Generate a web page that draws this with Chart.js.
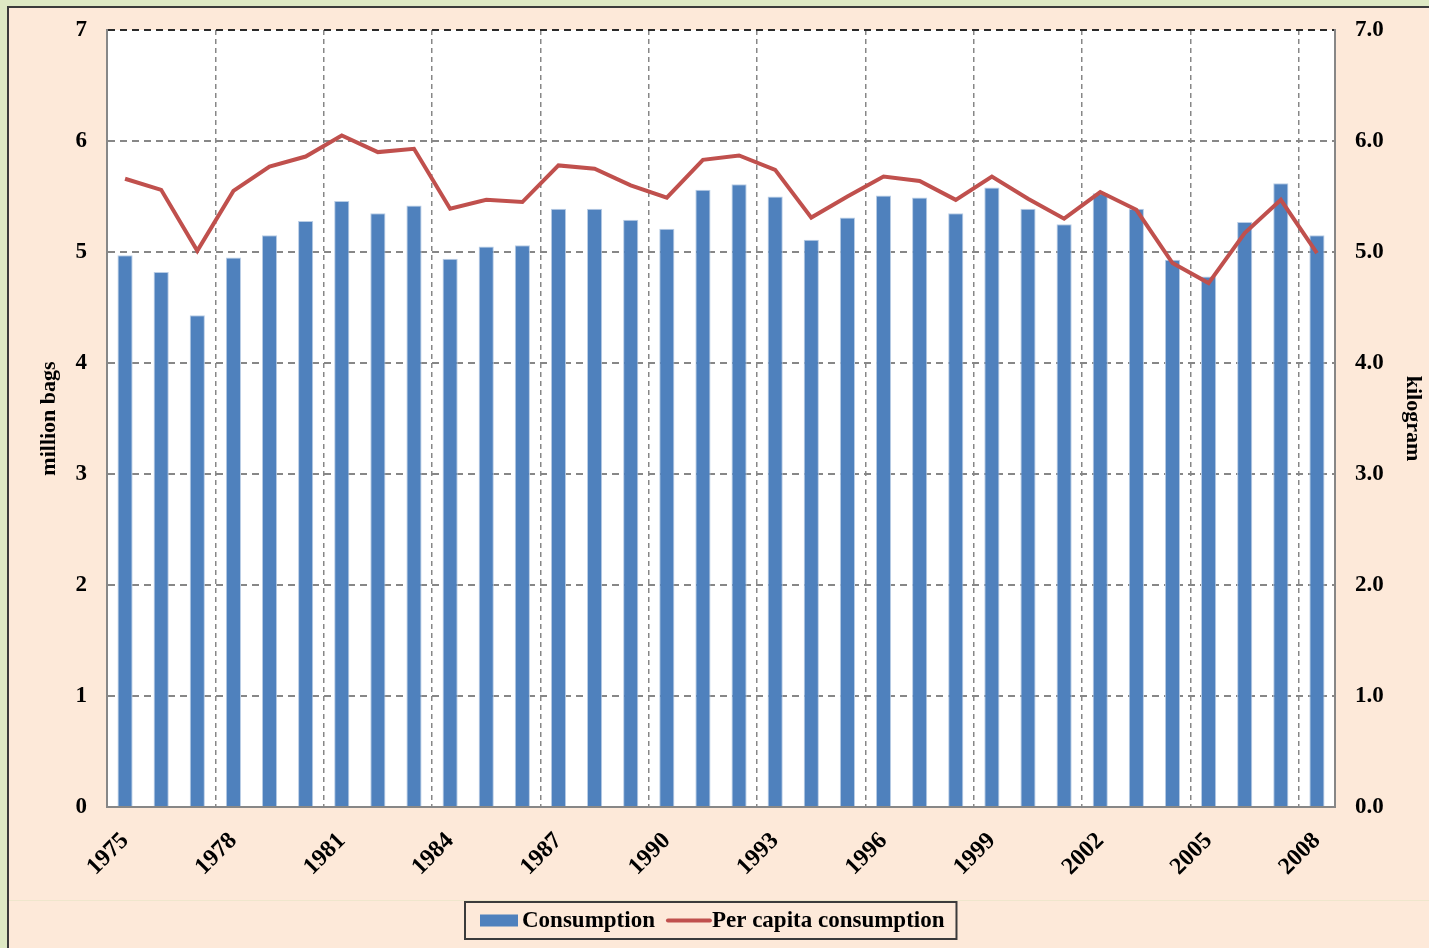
<!DOCTYPE html>
<html>
<head>
<meta charset="utf-8">
<script src="https://cdn.jsdelivr.net/npm/chart.js@4.4.1/dist/chart.umd.min.js"></script>
<style>
  html, body { margin: 0; padding: 0; background: #dee9c4; overflow: hidden; }
  #panel { position: absolute; left: 7px; top: 6px; width: 1440px; height: 960px;
           border: 2px solid #3b3b3b; background: #fde9d9; }
  #sep { position: absolute; left: 9px; top: 900px; width: 1430px; height: 1px; background: #efe6cc; }
  #chart { position: absolute; left: 0; top: 0; }
</style>
</head>
<body>
<div id="panel"></div>
<div id="sep"></div>
<canvas id="chart" width="1429" height="948"></canvas>
<script>
// years 1975 - 2008
const years = ['1975','1976','1977','1978','1979','1980','1981','1982','1983','1984',
               '1985','1986','1987','1988','1989','1990','1991','1992','1993','1994',
               '1995','1996','1997','1998','1999','2000','2001','2002','2003','2004',
               '2005','2006','2007','2008'];

// consumption, million bags
const consumption = [4.97, 4.82, 4.43, 4.95, 5.15, 5.28, 5.46, 5.35, 5.42, 4.94,
                     5.05, 5.06, 5.39, 5.39, 5.29, 5.21, 5.56, 5.61, 5.50, 5.11,
                     5.31, 5.51, 5.49, 5.35, 5.58, 5.39, 5.25, 5.53, 5.39, 4.93,
                     4.78, 5.27, 5.62, 5.15];

// per capita consumption, kilogram
const perCapita = [5.66, 5.56, 5.01, 5.55, 5.77, 5.86, 6.05, 5.90, 5.93, 5.39,
                   5.47, 5.45, 5.78, 5.75, 5.60, 5.49, 5.83, 5.87, 5.74, 5.31,
                   5.50, 5.68, 5.64, 5.47, 5.68, 5.48, 5.30, 5.54, 5.38, 4.90,
                   4.72, 5.17, 5.47, 4.99];

const fontFam = '"Liberation Serif", "Times New Roman", serif';
const gridGray = '#878787';

// white plot background
const plotBg = {
  id: 'plotBg',
  beforeDraw(chart) {
    const a = chart.chartArea, ctx = chart.ctx;
    ctx.save();
    ctx.fillStyle = '#ffffff';
    ctx.fillRect(a.left, a.top, a.right - a.left, a.bottom - a.top);
    ctx.restore();
  }
};

// boxed legend like the original: bar first, then line
const boxLegend = {
  id: 'boxLegend',
  afterDraw(chart) {
    const ctx = chart.ctx;
    const bar = chart.data.datasets.find(d => d.type === 'bar');
    const line = chart.data.datasets.find(d => d.type === 'line');
    ctx.save();
    ctx.font = 'bold 23px ' + fontFam;
    ctx.textBaseline = 'middle';
    const w0 = ctx.measureText(bar.label).width;
    const w1 = ctx.measureText(line.label).width;
    const total = 15 + 38 + 4 + w0 + 13 + 42 + 2 + w1 + 12;
    let x = Math.round(711 - total / 2);
    const top = 902, h = 37, cy = top + h / 2;
    ctx.lineWidth = 2;
    ctx.strokeStyle = '#3b3b3b';
    ctx.strokeRect(x, top, total, h);
    x += 15;
    ctx.fillStyle = bar.backgroundColor;
    ctx.fillRect(x, cy - 6, 38, 12);
    x += 38 + 4;
    ctx.fillStyle = '#000';
    ctx.fillText(bar.label, x, cy + 1);
    x += w0 + 13;
    ctx.strokeStyle = line.borderColor;
    ctx.lineWidth = 4;
    ctx.lineCap = 'round';
    ctx.beginPath();
    ctx.moveTo(x, cy);
    ctx.lineTo(x + 42, cy);
    ctx.stroke();
    x += 42 + 2;
    ctx.fillText(line.label, x, cy + 1);
    ctx.restore();
  }
};

const ctx = document.getElementById('chart').getContext('2d');
const chart = new Chart(ctx, {
  data: {
    labels: years,
    datasets: [
      {
        type: 'line',
        label: 'Per capita consumption',
        data: perCapita,
        yAxisID: 'y2',
        borderColor: '#c0504d',
        backgroundColor: '#c0504d',
        borderWidth: 4,
        pointRadius: 0,
        tension: 0,
        order: 0
      },
      {
        type: 'bar',
        label: 'Consumption',
        data: consumption,
        yAxisID: 'y',
        backgroundColor: '#4f81bd',
        borderColor: '#b9cde5',
        borderWidth: 1,
        categoryPercentage: 1,
        barPercentage: 0.42,
        order: 1
      }
    ]
  },
  options: {
    responsive: false,
    animation: false,
    layout: { padding: { top: 30, left: 0, right: 0, bottom: 0 } },
    plugins: {
      legend: { display: false },
      tooltip: { enabled: false }
    },
    scales: {
      x: {
        offset: true,
        grid: {
          offset: true,
          drawTicks: false,
          lineWidth: 1.5,
          color: c => (c.index > 0 && c.index % 3 === 0) ? gridGray : 'rgba(0,0,0,0)'
        },
        border: { display: true, color: gridGray, width: 2, dash: [5, 4] },
        ticks: {
          autoSkip: false,
          maxRotation: 45,
          minRotation: 45,
          padding: 20,
          color: '#000',
          font: { family: fontFam, size: 24, weight: 'bold' },
          callback: function(v, i) { return i % 3 === 0 ? this.getLabelForValue(v) : ''; }
        },
        afterFit: s => { s.height = 141; }
      },
      y: {
        position: 'left',
        min: 0, max: 7,
        ticks: {
          stepSize: 1,
          padding: 20,
          color: '#000',
          font: { family: fontFam, size: 23, weight: 'bold', lineHeight: 0.85 }
        },
        grid: {
          drawTicks: false,
          lineWidth: 2,
          color: c => c.tick.value === 7 ? '#2a2a2a' : gridGray
        },
        border: { display: true, color: gridGray, width: 2, dash: [7, 5] },
        title: {
          display: true,
          text: 'million bags',
          color: '#000',
          padding: { top: 36, bottom: 0 },
          font: { family: fontFam, size: 22, weight: 'bold' }
        },
        afterFit: s => { s.width = 107; }
      },
      y2: {
        position: 'right',
        min: 0, max: 7,
        ticks: {
          stepSize: 1,
          padding: 20,
          color: '#000',
          font: { family: fontFam, size: 23, weight: 'bold', lineHeight: 0.85 },
          callback: v => v.toFixed(1)
        },
        grid: { display: false, drawTicks: false },
        border: { display: true, color: gridGray, width: 2 },
        title: {
          display: true,
          text: 'kilogram',
          color: '#000',
          padding: { top: 3, bottom: 0 },
          font: { family: fontFam, size: 22, weight: 'bold' }
        },
        afterFit: s => { s.width = 94; }
      }
    }
  },
  plugins: [plotBg, boxLegend]
});
</script>
</body>
</html>
